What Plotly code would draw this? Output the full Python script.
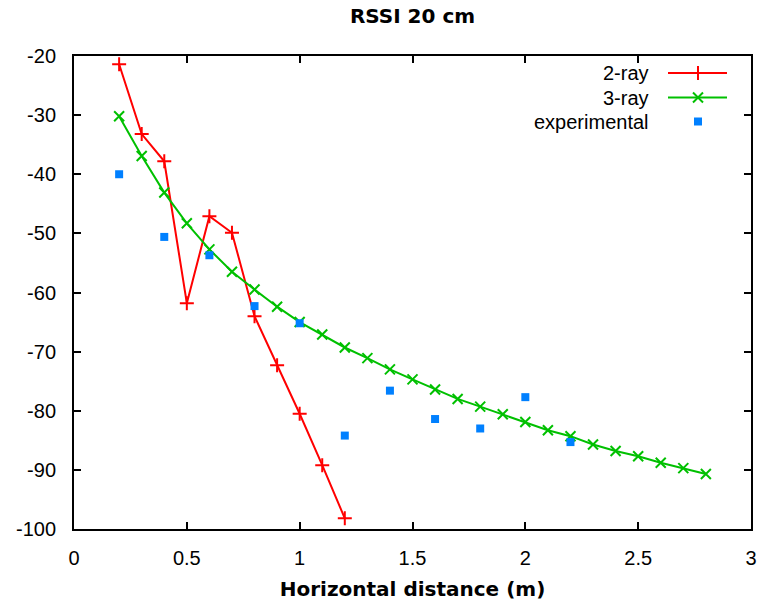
import plotly.graph_objects as go

# ---- data ----
x_2ray = [0.2, 0.3, 0.4, 0.5, 0.6, 0.7, 0.8, 0.9, 1.0, 1.1, 1.2]
y_2ray = [-21.4, -33.2, -37.8, -61.8, -47.1, -49.9, -64.0, -72.3, -80.5, -89.2, -98.2]

x_3ray = [0.2, 0.3, 0.4, 0.5, 0.6, 0.7, 0.8, 0.9, 1.0, 1.1, 1.2, 1.3, 1.4, 1.5,
          1.6, 1.7, 1.8, 1.9, 2.0, 2.1, 2.2, 2.3, 2.4, 2.5, 2.6, 2.7, 2.8]
y_3ray = [-30.2, -36.9, -43.1, -48.3, -52.7, -56.5, -59.5, -62.4, -65.0, -67.1,
          -69.3, -71.1, -73.0, -74.7, -76.4, -78.0, -79.3, -80.6, -81.9, -83.3,
          -84.3, -85.7, -86.8, -87.7, -88.8, -89.7, -90.7]

x_exp = [0.2, 0.4, 0.6, 0.8, 1.0, 1.2, 1.4, 1.6, 1.8, 2.0, 2.2]
y_exp = [-40.0, -50.6, -53.7, -62.3, -65.2, -84.2, -76.6, -81.4, -83.0, -77.7, -85.3]

series_names = ["2-ray", "3-ray", "experimental"]
x_ticks = [0, 0.5, 1, 1.5, 2, 2.5, 3]
x_tick_labels = ["0", "0.5", "1", "1.5", "2", "2.5", "3"]
y_ticks = [-20, -30, -40, -50, -60, -70, -80, -90, -100]
y_tick_labels = ["-20", "-30", "-40", "-50", "-60", "-70", "-80", "-90", "-100"]

RED = "#ff0000"
GREEN = "#00c000"
BLUE = "#0080ff"
TICKFONT = dict(family="Liberation Sans, Arial, sans-serif", size=20, color="black")
TITLEFONT = dict(family="DejaVu Sans, sans-serif", size=20, color="black", weight="bold")

red_marker = dict(symbol="cross-thin-open", size=10, color=RED, line=dict(color=RED, width=2))
green_marker = dict(symbol="x-thin-open", size=10, color=GREEN, line=dict(color=GREEN, width=2))
blue_marker = dict(symbol="square", size=8, color=BLUE, line=dict(width=0))

fig = go.Figure()
fig.add_trace(go.Scatter(
    x=x_2ray, y=y_2ray, mode="lines+markers", name=series_names[0],
    line=dict(color=RED, width=2), marker=red_marker, showlegend=False))
fig.add_trace(go.Scatter(
    x=x_3ray, y=y_3ray, mode="lines+markers", name=series_names[1],
    line=dict(color=GREEN, width=2), marker=green_marker, showlegend=False))
fig.add_trace(go.Scatter(
    x=x_exp, y=y_exp, mode="markers", name=series_names[2],
    marker=blue_marker, showlegend=False))

# ---- manual gnuplot-style legend on an overlay axis in pixel units ----
leg_rows = [73, 97.5, 121.5]
leg_line_x = [668, 727]
leg_mark_x = 698
leg_text_x = 651
fig.add_trace(go.Scatter(
    x=leg_line_x, y=[leg_rows[0]] * 2, mode="lines", xaxis="x2", yaxis="y2",
    line=dict(color=RED, width=2), showlegend=False, hoverinfo="skip"))
fig.add_trace(go.Scatter(
    x=[leg_mark_x], y=[leg_rows[0]], mode="markers", xaxis="x2", yaxis="y2",
    marker=red_marker, showlegend=False, hoverinfo="skip"))
fig.add_trace(go.Scatter(
    x=leg_line_x, y=[leg_rows[1]] * 2, mode="lines", xaxis="x2", yaxis="y2",
    line=dict(color=GREEN, width=2), showlegend=False, hoverinfo="skip"))
fig.add_trace(go.Scatter(
    x=[leg_mark_x], y=[leg_rows[1]], mode="markers", xaxis="x2", yaxis="y2",
    marker=green_marker, showlegend=False, hoverinfo="skip"))
fig.add_trace(go.Scatter(
    x=[leg_mark_x], y=[leg_rows[2]], mode="markers", xaxis="x2", yaxis="y2",
    marker=blue_marker, showlegend=False, hoverinfo="skip"))
for name, yy in zip(series_names, leg_rows):
    fig.add_annotation(x=leg_text_x, y=yy, xref="x2", yref="y2", text=name,
                       showarrow=False, xanchor="right", yanchor="middle",
                       font=TICKFONT)

fig.update_layout(
    width=760, height=601,
    margin=dict(l=74, r=9, t=56, b=72),
    plot_bgcolor="white", paper_bgcolor="white",
    title=dict(text="RSSI 20 cm", x=(74 + 751) / 2 / 760, xanchor="center",
               y=1 - 16 / 601, yanchor="middle", font=TITLEFONT),
    xaxis=dict(range=[0, 3], tickvals=x_ticks, ticktext=x_tick_labels,
               ticks="inside", ticklen=7, tickwidth=2, tickcolor="black",
               showline=True, linewidth=2, linecolor="black", mirror="ticks",
               showgrid=False, zeroline=False, tickfont=TICKFONT,
               ticklabelstandoff=10, automargin=False,
               title=dict(text="Horizontal distance (m)", standoff=14, font=TITLEFONT)),
    yaxis=dict(range=[-100, -20], tickvals=y_ticks, ticktext=y_tick_labels,
               ticks="inside", ticklen=7, tickwidth=2, tickcolor="black",
               showline=True, linewidth=2, linecolor="black", mirror="ticks",
               showgrid=False, zeroline=False, tickfont=TICKFONT,
               ticklabelstandoff=12, automargin=False),
    xaxis2=dict(overlaying="x", range=[74, 751], visible=False, fixedrange=True),
    yaxis2=dict(overlaying="y", range=[529, 56], visible=False, fixedrange=True),
    showlegend=False,
)

fig.write_html("out.html")
